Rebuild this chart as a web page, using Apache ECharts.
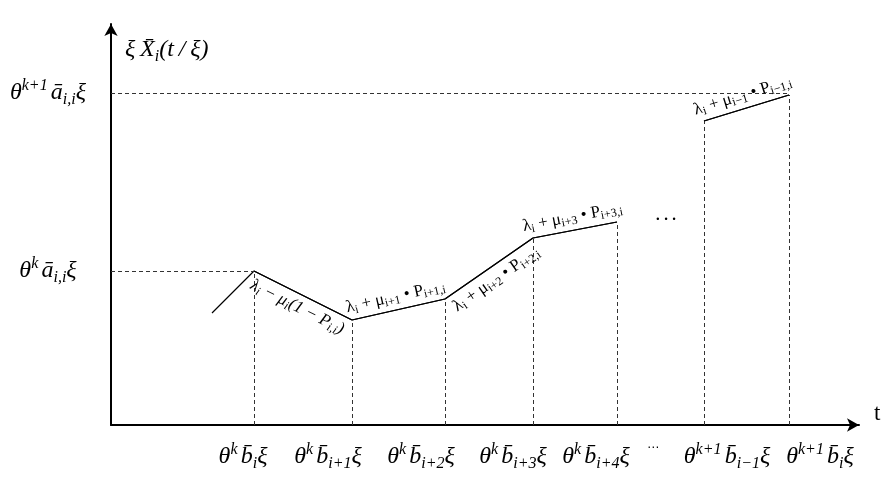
<!DOCTYPE html>
<html>
<head>
<meta charset="utf-8">
<script src="https://cdn.jsdelivr.net/npm/echarts@6/dist/echarts.min.js"></script>
<style>
html, body { margin: 0; padding: 0; background: #fff; }
#chart { width: 895px; height: 486px; }
</style>
</head>
<body>
<div id="chart"></div>
<script>
// 折线拐点 (t, ξX̄)
var pathX1 = [101, 143, 241, 334, 422, 506];
var pathY1 = [112, 154, 105, 126, 187, 203];
var pathX2 = [593, 678];
var pathY2 = [304, 330];

// 水平虚线
var levelY = [154, 332];
var levelEndX = [143, 678];
var levelLabels = [
    '{m|θ}{sp|k\u2009}{m|a\u0304}{sb|i,i}{m|ξ}',
    '{m|θ}{sp|k+1\u2009}{m|a\u0304}{sb|i,i}{m|ξ}'
];

// x 轴标签
var tickX = [132, 217, 310, 402, 485, 542, 616, 709];
var tickLabels = [
    '{m|θ}{sp|k\u2009}{m|b\u0304}{sb|i}{m|ξ}',
    '{m|θ}{sp|k\u2009}{m|b\u0304}{sb|i+1}{m|ξ}',
    '{m|θ}{sp|k\u2009}{m|b\u0304}{sb|i+2}{m|ξ}',
    '{m|θ}{sp|k\u2009}{m|b\u0304}{sb|i+3}{m|ξ}',
    '{m|θ}{sp|k\u2009}{m|b\u0304}{sb|i+4}{m|ξ}',
    '{d|⋯}',
    '{m|θ}{sp|k+1\u2009}{m|b\u0304}{sb|i−1}{m|ξ}',
    '{m|θ}{sp|k+1\u2009}{m|b\u0304}{sb|i}{m|ξ}'
];

// 斜率标注
var slopeLabels = [
    '{ti|λ}{si|i}{ti| − μ}{si|i}{ti|(1 − P}{si|i,i}{ti|)}',
    '{t|λ}{s|i}{t| + μ}{s|i+1}{t| • P}{s|i+1,i}',
    '{t|λ}{s|i}{t| + μ}{s|i+2}{t| • P}{s|i+2,i}',
    '{t|λ}{s|i}{t| + μ}{s|i+3}{t| • P}{s|i+3,i}',
    '{t|λ}{s|i}{t| + μ}{s|i−1}{t| • P}{s|i−1,i}'
];
var slopeSide = ['insideMiddleBottom', 'insideMiddleTop', 'insideMiddleBottom', 'insideMiddleTop', 'insideMiddleTop'];
var dotsAt = [555, 205];

var mathRich = {
    m: { fontFamily: 'Liberation Serif', fontStyle: 'italic', fontSize: 24, color: '#000', lineHeight: 30, verticalAlign: 'middle' },
    sp: { fontFamily: 'Liberation Serif', fontStyle: 'italic', fontSize: 16, color: '#000', lineHeight: 23, verticalAlign: 'top' },
    sb: { fontFamily: 'Liberation Serif', fontStyle: 'italic', fontSize: 16, color: '#000', lineHeight: 20, verticalAlign: 'bottom' },
    d: { fontFamily: 'DejaVu Sans', fontSize: 12, color: '#000', lineHeight: 22, verticalAlign: 'top' }
};
var slopeRich = {
    t: { fontFamily: 'Liberation Serif', fontSize: 17, color: '#000', lineHeight: 20, verticalAlign: 'middle' },
    s: { fontFamily: 'Liberation Serif', fontSize: 12, color: '#000', lineHeight: 13, verticalAlign: 'bottom' },
    ti: { fontFamily: 'Liberation Serif', fontStyle: 'italic', fontSize: 17, color: '#000', lineHeight: 20, verticalAlign: 'middle' },
    si: { fontFamily: 'Liberation Serif', fontStyle: 'italic', fontSize: 12, color: '#000', lineHeight: 13, verticalAlign: 'bottom' }
};

function zip(xs, ys) {
    var out = [];
    for (var i = 0; i < xs.length; i++) out.push([xs[i], ys[i]]);
    return out;
}

/* 虚线 */
var dashData = [];
var breakX = pathX1.slice(1).concat(pathX2);
var breakY = pathY1.slice(1).concat(pathY2);
breakX.forEach(function (x, i) {
    dashData.push([{ coord: [x, 0] }, { coord: [x, breakY[i]] }]);
});
levelY.forEach(function (y, i) {
    dashData.push([{ coord: [0, y] }, { coord: [levelEndX[i], y] }]);
});

/* 斜率线段 */
var segs = [];
for (var i = 1; i < pathX1.length - 1; i++) {
    segs.push([[pathX1[i], pathY1[i]], [pathX1[i + 1], pathY1[i + 1]]]);
}
segs.push([[pathX2[0], pathY2[0]], [pathX2[1], pathY2[1]]]);
var slopeData = segs.map(function (s, i) {
    return [
        { coord: s[0], label: { formatter: slopeLabels[i], position: slopeSide[i] } },
        { coord: s[1] }
    ];
});

var myChart = echarts.init(document.getElementById('chart'));
var option = {
    animation: false,
    backgroundColor: '#fff',
    grid: { left: 111, right: 36, top: 24, bottom: 61, outerBoundsMode: 'none' },
    xAxis: {
        type: 'value',
        min: 0,
        max: 748,
        name: 't',
        nameLocation: 'end',
        nameGap: 15,
        nameTextStyle: { fontFamily: 'Liberation Serif', fontSize: 23, color: '#000', verticalAlign: 'bottom' },
        axisLine: { show: true, symbol: ['none', 'arrow'], symbolSize: [10, 12], lineStyle: { color: '#000', width: 2 } },
        axisTick: { show: false },
        splitLine: { show: false },
        axisLabel: {
            customValues: tickX,
            margin: 17,
            formatter: function (v) { return tickLabels[tickX.indexOf(v)]; },
            rich: mathRich
        }
    },
    yAxis: {
        type: 'value',
        min: 0,
        max: 401,
        name: '{m|ξ\u2009X\u0304}{sb|i}{m|(t\u2009/\u2009ξ)}',
        nameLocation: 'end',
        nameGap: -26,
        nameTextStyle: { align: 'left', verticalAlign: 'middle', padding: [0, 0, 0, 14], rich: mathRich },
        axisLine: { show: true, symbol: ['none', 'arrow'], symbolSize: [10, 12], lineStyle: { color: '#000', width: 2 } },
        axisTick: { show: false },
        splitLine: { show: false },
        axisLabel: {
            customValues: levelY,
            margin: 63,
            align: 'center',
            formatter: function (v) { return levelLabels[levelY.indexOf(v)]; },
            rich: mathRich
        }
    },
    series: [
        {
            type: 'line',
            data: zip(pathX1, pathY1),
            symbol: 'none',
            lineStyle: { color: '#000', width: 1.2 },
            markLine: {
                silent: true,
                symbol: ['none', 'none'],
                lineStyle: { color: '#333', width: 1, type: [4, 3] },
                label: { show: false },
                data: dashData
            }
        },
        {
            type: 'line',
            data: zip(pathX2, pathY2),
            symbol: 'none',
            lineStyle: { color: '#000', width: 1.2 },
            markLine: {
                silent: true,
                symbol: ['none', 'none'],
                lineStyle: { color: '#000', width: 1.2, type: 'solid' },
                label: { show: true, distance: 3, rich: slopeRich },
                data: slopeData
            },
            markPoint: {
                silent: true,
                symbol: 'circle',
                symbolSize: 0,
                label: { show: true, position: 'inside', formatter: '•  •  •', fontSize: 9, color: '#000', fontFamily: 'Liberation Sans' },
                data: [{ coord: dotsAt }]
            }
        }
    ]
};
myChart.setOption(option);
</script>
</body>
</html>
